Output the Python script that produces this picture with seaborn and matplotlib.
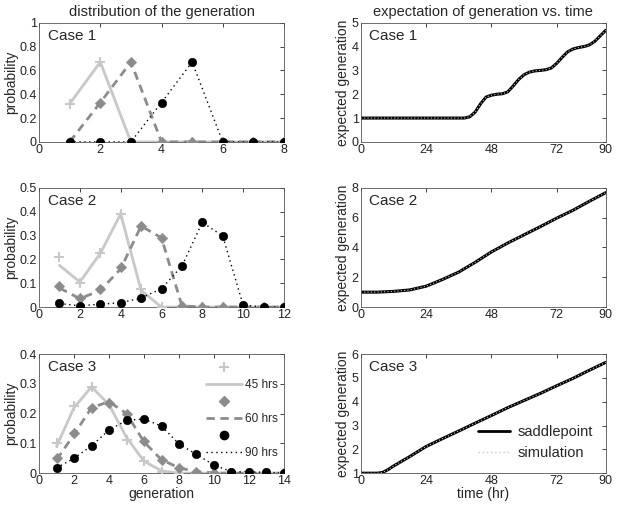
import numpy as np
import pandas as pd
import matplotlib
matplotlib.use('Agg')
import matplotlib.pyplot as plt
import seaborn as sns
from matplotlib.lines import Line2D

# ---- данные: распределение поколений (линии = saddlepoint, маркеры = simulation)
gen_c1 = [1, 2, 3, 4, 5, 6, 7, 8]
c1_45_line = [0.32, 0.67, 0, 0, 0, 0, 0, 0]
c1_45_pts = [0.32, 0.67, 0, 0, 0, 0, 0, 0]
c1_60_line = [0, 0.33, 0.67, 0, 0, 0, 0, 0]
c1_60_pts = [0, 0.33, 0.67, 0, 0, 0, 0, 0]
c1_90_line = [0, 0, 0, 0.33, 0.67, 0, 0, 0]
c1_90_pts = [0, 0, 0, 0.33, 0.67, 0, 0, 0]

gen_c2 = [1, 2, 3, 4, 5, 6, 7, 8, 9, 10, 11, 12]
c2_45_line = [0.175, 0.105, 0.225, 0.39, 0.07, 0.0, 0, 0, 0, 0, 0, 0]
c2_45_pts = [0.21, 0.10, 0.225, 0.39, 0.075, 0.0, 0, 0, 0, 0, 0, 0]
c2_60_line = [0.08, 0.035, 0.07, 0.16, 0.34, 0.29, 0.005, 0, 0, 0, 0, 0]
c2_60_pts = [0.087, 0.037, 0.075, 0.167, 0.34, 0.29, 0.005, 0, 0, 0, 0, 0]
c2_90_line = [0.015, 0.005, 0.012, 0.018, 0.038, 0.077, 0.172, 0.355, 0.298, 0.008, 0, 0]
c2_90_pts = [0.015, 0.005, 0.012, 0.018, 0.038, 0.077, 0.172, 0.355, 0.298, 0.008, 0, 0]

gen_c3 = [1, 2, 3, 4, 5, 6, 7, 8, 9, 10, 11, 12, 13, 14]
c3_45_line = [0.09, 0.22, 0.29, 0.23, 0.12, 0.04, 0.008, 0, 0, 0, 0, 0, 0, 0]
c3_45_pts = [0.10, 0.225, 0.29, 0.235, 0.112, 0.04, 0.005, 0, 0, 0, 0, 0, 0, 0]
c3_60_line = [0.045, 0.13, 0.22, 0.24, 0.20, 0.105, 0.045, 0.018, 0.005, 0.001, 0, 0, 0, 0]
c3_60_pts = [0.05, 0.135, 0.22, 0.237, 0.20, 0.107, 0.045, 0.018, 0.005, 0, 0, 0, 0, 0]
c3_90_line = [0.018, 0.05, 0.092, 0.145, 0.177, 0.182, 0.158, 0.098, 0.063, 0.027, 0.005, 0.004, 0.003, 0.001]
c3_90_pts = [0.018, 0.05, 0.092, 0.145, 0.177, 0.182, 0.158, 0.098, 0.063, 0.027, 0.005, 0.004, 0.003, 0.001]

# ---- данные: ожидаемое поколение от времени
t_c1 = [0, 6, 12, 18, 24, 30, 36, 38, 40, 42, 44, 46, 48, 50, 52, 54, 56, 58, 60, 62, 64, 66,
        68, 70, 72, 74, 76, 78, 80, 82, 84, 86, 88, 90]
e_c1 = [1, 1, 1, 1, 1, 1, 1, 1.0, 1.05, 1.25, 1.6, 1.88, 1.96, 2.0, 2.02, 2.1, 2.35, 2.62, 2.82,
        2.93, 2.98, 3.0, 3.03, 3.1, 3.3, 3.55, 3.78, 3.9, 3.96, 4.0, 4.07, 4.22, 4.45, 4.68]

t_c2 = [0, 6, 12, 18, 24, 30, 36, 42, 48, 54, 60, 66, 72, 78, 84, 90]
e_c2 = [1.0, 1.0, 1.05, 1.15, 1.4, 1.85, 2.35, 3.0, 3.7, 4.3, 4.85, 5.4, 5.97, 6.5, 7.1, 7.68]

t_c3 = [0, 3, 6, 8, 10, 12, 18, 24, 30, 36, 42, 48, 54, 60, 66, 72, 78, 84, 90]
e_c3 = [1.0, 1.0, 1.0, 1.03, 1.15, 1.3, 1.7, 2.12, 2.45, 2.77, 3.1, 3.42, 3.75, 4.05, 4.35,
        4.67, 4.98, 5.32, 5.65]

hours = ['45 hrs', '60 hrs', '90 hrs']

sns.set_style('white')
plt.rcParams['font.family'] = ['Liberation Sans', 'DejaVu Sans']
plt.rcParams['xtick.direction'] = 'in'
plt.rcParams['ytick.direction'] = 'in'
plt.rcParams['xtick.top'] = True
plt.rcParams['ytick.right'] = True
plt.rcParams['axes.linewidth'] = 0.6
plt.rcParams['axes.edgecolor'] = '#555555'

light = '#c8c8c8'
mid = '#8c8c8c'
dark = 'black'

fig = plt.figure(figsize=(6.2, 5.05), dpi=100)

rows_bottom = [0.719, 0.392, 0.063]
h = 0.236
w = 0.395


def draw_dist(ax, gen, l45, p45, l60, p60, l90, p90):
    sns.lineplot(x=gen, y=l45, ax=ax, color=light, lw=2, linestyle='-')
    sns.scatterplot(x=gen, y=p45, ax=ax, color=light, marker='+', s=60, linewidth=1.5, zorder=3)
    sns.lineplot(x=gen, y=l60, ax=ax, color=mid, lw=2, linestyle=(0, (3, 2)))
    sns.scatterplot(x=gen, y=p60, ax=ax, color=mid, marker='D', s=28, edgecolor=mid, zorder=4)
    sns.lineplot(x=gen, y=l90, ax=ax, color=dark, lw=1, linestyle=(0, (1, 2.5)))
    sns.scatterplot(x=gen, y=p90, ax=ax, color=dark, marker='o', s=36, edgecolor=dark, zorder=5)


def style_ax(ax, xt, yt, xlim, ylim, case):
    ax.set_xlim(xlim)
    ax.set_ylim(ylim)
    ax.set_xticks(xt)
    ax.set_yticks(yt)
    ax.set_yticklabels([('%g' % v) for v in yt])
    ax.tick_params(labelsize=9, length=3, width=0.6, pad=1.5, colors='#222222')
    ax.text(0.035, 0.89, case, transform=ax.transAxes, fontsize=11, va='center', ha='left')
    for s in ax.spines.values():
        s.set_visible(True)


dist_data = [
    (gen_c1, c1_45_line, c1_45_pts, c1_60_line, c1_60_pts, c1_90_line, c1_90_pts),
    (gen_c2, c2_45_line, c2_45_pts, c2_60_line, c2_60_pts, c2_90_line, c2_90_pts),
    (gen_c3, c3_45_line, c3_45_pts, c3_60_line, c3_60_pts, c3_90_line, c3_90_pts),
]
dist_axes = [
    (range(0, 9, 2), np.arange(0, 1.01, 0.2), (0, 8), (0, 1)),
    (range(0, 13, 2), np.arange(0, 0.51, 0.1), (0, 12), (0, 0.5)),
    (range(0, 15, 2), np.arange(0, 0.41, 0.1), (0, 14), (0, 0.4)),
]
exp_data = [(t_c1, e_c1), (t_c2, e_c2), (t_c3, e_c3)]
exp_axes = [(range(0, 6), (0, 5)), (range(0, 9, 2), (0, 8)), (range(1, 7), (1, 6))]

for i in range(3):
    ax = fig.add_axes([0.063, rows_bottom[i], w, h])
    draw_dist(ax, *dist_data[i])
    xt, yt, xl, yl = dist_axes[i]
    style_ax(ax, xt, yt, xl, yl, 'Case %d' % (i + 1))
    ax.set_ylabel('probability', fontsize=10, labelpad=1)

    ax2 = fig.add_axes([0.582, rows_bottom[i], w, h])
    t, e = exp_data[i]
    sns.lineplot(x=t, y=e, ax=ax2, color='black', lw=2.2)
    sns.lineplot(x=t, y=e, ax=ax2, color=light, lw=0.8, linestyle=(0, (1, 2)))
    yt2, yl2 = exp_axes[i]
    style_ax(ax2, [0, 24, 48, 72, 90], list(yt2), (0, 90), yl2, 'Case %d' % (i + 1))
    ax2.set_ylabel('expected generation', fontsize=10, labelpad=1)

    if i == 0:
        ax.set_title('distribution of the generation', fontsize=10.5, pad=5)
        ax2.set_title('expectation of generation vs. time', fontsize=10.5, pad=5)
    if i == 2:
        ax.set_xlabel('generation', fontsize=10, labelpad=0)
        ax2.set_xlabel('time (hr)', fontsize=10, labelpad=0)
        handles = [
            Line2D([], [], color=light, marker='+', linestyle='none', markersize=7, mew=1.5),
            Line2D([], [], color=light, lw=2),
            Line2D([], [], color=mid, marker='D', linestyle='none', markersize=5),
            Line2D([], [], color=mid, lw=2, linestyle=(0, (3, 2))),
            Line2D([], [], color=dark, marker='o', linestyle='none', markersize=6),
            Line2D([], [], color=dark, lw=1, linestyle=(0, (1, 2.5))),
        ]
        labels = ['', hours[0], '', hours[1], '', hours[2]]
        ax.legend(handles, labels, loc='upper right', frameon=False, fontsize=8.5,
                  handlelength=3, labelspacing=0.42, handletextpad=0.3,
                  bbox_to_anchor=(1.0, 0.98), borderaxespad=0.1)
        h2 = [Line2D([], [], color='black', lw=2),
              Line2D([], [], color=light, lw=1, linestyle=(0, (1, 2)))]
        ax2.legend(h2, ['saddlepoint', 'simulation'], loc='lower right', frameon=False,
                   fontsize=10.5, handlelength=2.2, labelspacing=0.45, handletextpad=0.5,
                   bbox_to_anchor=(1.0, 0.0))

fig.savefig('out.png', dpi=100)
